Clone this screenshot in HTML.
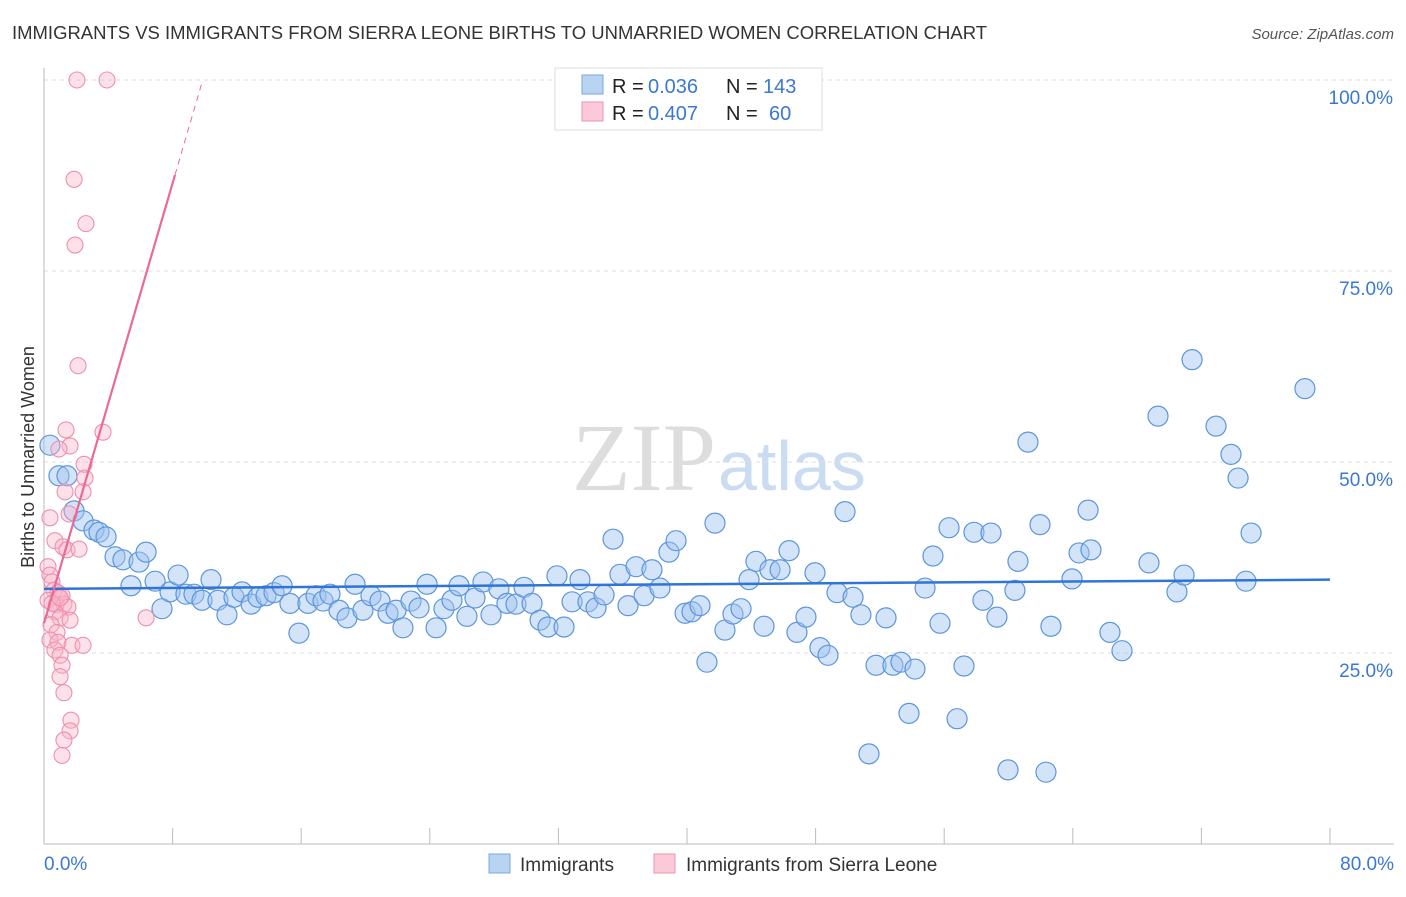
<!DOCTYPE html>
<html><head><meta charset="utf-8"><style>
body{margin:0;background:#fff;font-family:"Liberation Sans",sans-serif}
svg text{font-family:"Liberation Sans",sans-serif}
</style></head><body>
<svg id="c" width="1406" height="892">
<text x="12" y="39" font-size="18" fill="#333" textLength="975" lengthAdjust="spacingAndGlyphs">IMMIGRANTS VS IMMIGRANTS FROM SIERRA LEONE BIRTHS TO UNMARRIED WOMEN CORRELATION CHART</text>
<text x="1394" y="39" font-size="15" fill="#555" font-style="italic" text-anchor="end">Source: ZipAtlas.com</text>
<text x="716" y="490" font-size="96" fill="#ddd" text-anchor="end" font-family="Liberation Serif" style="font-family:'Liberation Serif',serif">ZIP</text>
<text x="718" y="490" font-size="70" fill="#c9dcf2">atlas</text>
<text transform="translate(34,457) rotate(-90)" font-size="18" fill="#333" text-anchor="middle">Births to Unmarried Women</text>
<g id="grid"></g><g id="pts"></g><g id="lines"></g>
<g>
<rect x="555" y="68" width="267" height="62" fill="#fff" stroke="#ddd"/>
<rect x="582" y="75" width="21" height="19" fill="#b9d3f3" stroke="#7aa8e0"/>
<rect x="582" y="102" width="21" height="19" fill="#fcc9d8" stroke="#ee93b0"/>
<text y="93" font-size="20" fill="#222"><tspan x="612">R =</tspan><tspan x="648" fill="#3a78d4">0.036</tspan><tspan x="726">N =</tspan><tspan x="763" fill="#3a78d4">143</tspan></text>
<text y="120" font-size="20" fill="#222"><tspan x="612">R =</tspan><tspan x="648" fill="#3a78d4">0.407</tspan><tspan x="726">N =</tspan><tspan x="769" fill="#3a78d4">60</tspan></text>
</g>
<g>
<rect x="489" y="854" width="21" height="19" fill="#b9d3f3" stroke="#7aa8e0"/>
<text x="520" y="871" font-size="19" fill="#333">Immigrants</text>
<rect x="654" y="854" width="21" height="19" fill="#fcc9d8" stroke="#ee93b0"/>
<text x="686" y="871" font-size="19" fill="#333">Immigrants from Sierra Leone</text>
</g>
</svg>
<script>
const yTicks=[25,50,75,100];
const yTickLabels=["25.0%","50.0%","75.0%","100.0%"];
const xTicks=[0,8,16,24,32,40,48,56,64,72,80];
const xEndLabels=["0.0%","80.0%"];
const bluePx=[[50,445],[59,476],[67,476],[74,511],[83,521],[94,530],[99,532],[106,537],[115,557],[123,560],[139,562],[146,552],[131,586],[155,581],[162,609],[170,592],[178,575],[186,594],[194,594],[202,600],[211,580],[218,600],[227,615],[234,597],[242,592],[251,604],[258,597],[266,596],[274,593],[282,586],[290,603],[299,633],[308,603],[316,596],[323,601],[330,594],[339,610],[347,618],[355,584],[363,610],[371,596],[380,601],[388,613],[396,610],[403,628],[411,601],[419,608],[427,584],[436,628],[444,609],[452,600],[459,586],[467,616],[475,598],[483,582],[491,615],[499,589],[507,603],[516,604],[524,587],[532,603],[540,620],[548,627],[557,576],[564,627],[572,602],[580,580],[588,602],[596,608],[604,595],[613,539],[620,574],[628,606],[636,567],[644,596],[652,570],[660,588],[669,552],[676,541],[685,613],[692,612],[700,606],[707,662],[715,523],[725,630],[733,614],[741,609],[749,580],[756,561],[764,626],[770,570],[780,570],[789,551],[797,632],[806,617],[815,573],[820,648],[828,655],[837,593],[845,512],[853,597],[861,615],[869,754],[876,665],[886,618],[893,665],[901,662],[909,713],[915,669],[925,588],[933,556],[940,623],[949,528],[957,719],[964,666],[974,532],[983,600],[991,533],[997,617],[1008,770],[1018,561],[1015,590],[1028,442],[1040,525],[1046,772],[1051,626],[1072,579],[1079,553],[1088,510],[1091,550],[1110,632],[1122,651],[1149,563],[1158,416],[1177,592],[1184,575],[1192,360],[1216,426],[1231,454],[1238,478],[1246,581],[1251,533],[1305,389]];
const pinkPx=[[77,80],[107,80],[74,179],[86,224],[75,245],[78,366],[66,430],[103,432],[70,446],[59,449],[84,464],[85,478],[65,492],[83,492],[69,514],[50,518],[55,541],[63,547],[67,550],[79,549],[48,567],[50,575],[52,582],[54,590],[58,593],[62,596],[48,600],[56,605],[64,604],[68,607],[55,612],[60,618],[70,620],[51,625],[57,632],[50,640],[58,642],[72,645],[83,645],[55,650],[60,655],[62,665],[60,677],[64,693],[71,720],[70,731],[64,740],[62,755],[146,618],[52,603],[60,598]];
// data values (percent)
const blueX=bluePx.map(p=>+((p[0]-44)*80/1286).toFixed(2));
const blueY=bluePx.map(p=>+((844-p[1])*100/764).toFixed(1));
const pinkX=pinkPx.map(p=>+((p[0]-44)*80/1286).toFixed(2));
const pinkY=pinkPx.map(p=>+((844-p[1])*100/764).toFixed(1));
const blueTrend=[33.4,34.6];
const pinkTrend=[28.9,7.2];
const X=v=>44+v*1286/80, Y=v=>844-v*7.64;
const NS="http://www.w3.org/2000/svg";
function mk(t,a,p){const e=document.createElementNS(NS,t);for(const k in a)e.setAttribute(k,a[k]);p.appendChild(e);return e;}
const svg=document.getElementById('c');
const grid=document.getElementById('grid');
yTicks.forEach((t,i)=>{
 const l=mk('line',{x1:44,x2:1394,y1:Y(t),y2:Y(t),stroke:'#ddd','stroke-dasharray':'4,4'},grid);
 
 
 const tx=mk('text',{x:1393,y:Y(t)+24,'font-size':19,fill:'#3a78d4','text-anchor':'end'},grid);
 tx.textContent=yTickLabels[i];
 
 
});
const ax=mk('line',{x1:44,x2:44,y1:68,y2:844,stroke:'#bbb'},grid);


const bx=mk('line',{x1:44,x2:1394,y1:844,y2:844,stroke:'#bbb'},grid);


xTicks.forEach(t=>{
 const l=mk('line',{x1:X(t),x2:X(t),y1:828,y2:844,stroke:'#bbb'},grid);
 
 
});
[[0,'start',44],[1,'end',1394]].forEach(([i,a,x])=>{
 const tx=mk('text',{x:x,y:870,'font-size':19,fill:'#3a78d4','text-anchor':a},grid);
 tx.textContent=xEndLabels[i];
 
 
});
const pts=document.getElementById('pts');
blueX.forEach((x,i)=>{
 const c=mk('circle',{cx:X(x),cy:Y(blueY[i]),r:10,fill:'rgba(160,196,240,0.45)',stroke:'#5b95dd','stroke-width':1.2},pts);
 
 
});
pinkX.forEach((x,i)=>{
 const c=mk('circle',{cx:X(x),cy:Y(pinkY[i]),r:8,fill:'rgba(250,180,200,0.4)',stroke:'#ee8fae','stroke-width':1.1},pts);
 
 
});
const lines=document.getElementById('lines');
const b=mk('line',{x1:X(0),y1:Y(blueTrend[0]),x2:X(80),y2:Y(blueTrend[1]),stroke:'#2f74d6','stroke-width':2.5},lines);


const pf=x=>pinkTrend[0]+pinkTrend[1]*x;
const p1=mk('line',{x1:X(0),y1:Y(pf(0)),x2:X(8.15),y2:Y(pf(8.15)),stroke:'#ea6a95','stroke-width':2.2},lines);


const xe=(100-pinkTrend[0])/pinkTrend[1];
const p2=mk('line',{x1:X(8.15),y1:Y(pf(8.15)),x2:X(xe),y2:Y(100),stroke:'#ea6a95','stroke-width':1,'stroke-dasharray':'6,5'},lines);


</script>
</body></html>
